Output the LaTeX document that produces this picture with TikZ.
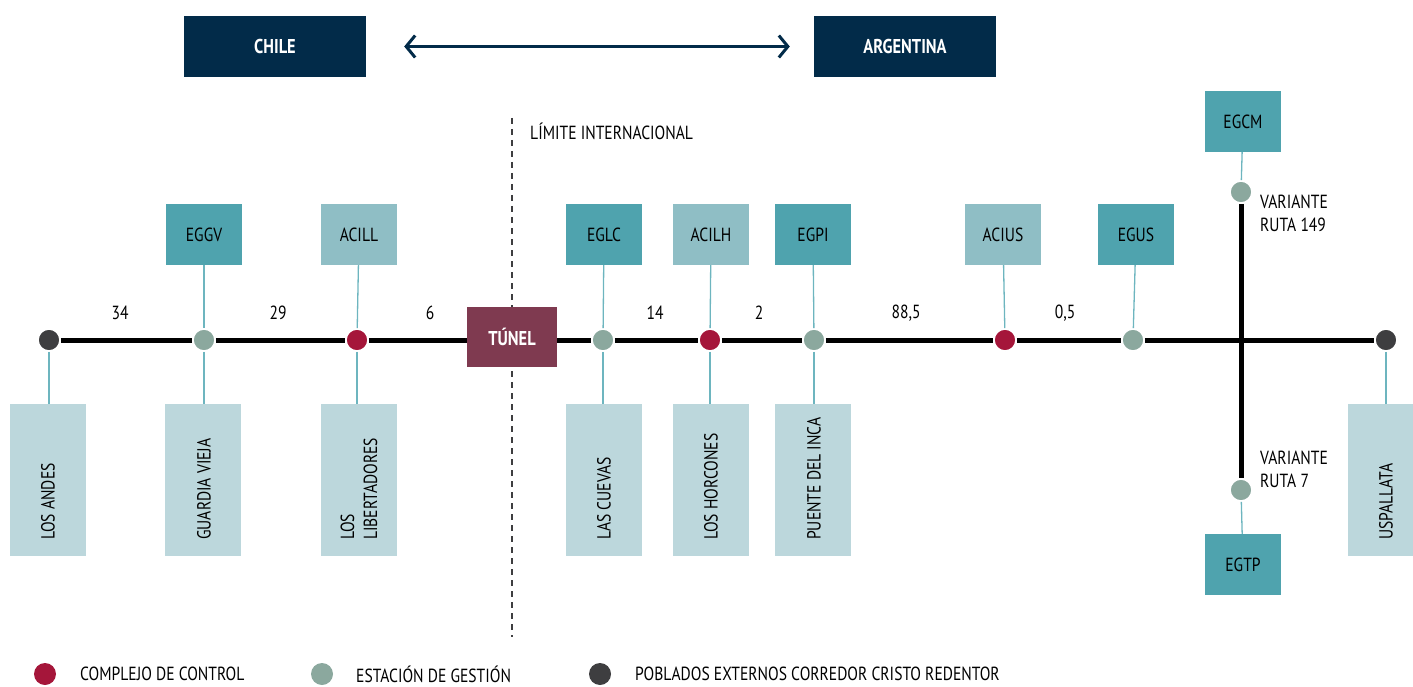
\documentclass[tikz,border=0pt]{standalone}
\usepackage{fontspec}
\setmainfont[FakeStretch=0.82]{PT Sans}
\usetikzlibrary{arrows.meta}
\definecolor{navy}{HTML}{022B49}
\definecolor{tunnelc}{HTML}{7F3A50}
\definecolor{tealA}{HTML}{4FA3AE}
\definecolor{tealB}{HTML}{8FBEC5}
\definecolor{pale}{HTML}{BCD7DC}
\definecolor{redc}{HTML}{A5163A}
\definecolor{sage}{HTML}{8BA89E}
\definecolor{darkc}{HTML}{3E3E40}
\definecolor{connc}{HTML}{6DB5BF}
\tikzset{
  txt/.style={font=\fontsize{19}{23}\selectfont, inner sep=0pt},
  boldtxt/.style={text=white, font=\fontsize{20}{23}\selectfont\bfseries},
  country/.style={rectangle, fill=navy, minimum width=182pt, minimum height=61pt, boldtxt},
  topA/.style={rectangle, fill=tealA, minimum width=76pt, minimum height=61pt, txt},
  topB/.style={rectangle, fill=tealB, minimum width=76pt, minimum height=61pt, txt},
  town/.style={rectangle, fill=pale, minimum width=76pt, minimum height=152pt, anchor=north},
  townlbl/.style={txt, rotate=90, anchor=west, align=left},
  dot/.style={circle, minimum size=22pt, inner sep=0pt, draw=white, line width=1.6pt},
  ctrl/.style={dot, fill=redc},
  gest/.style={dot, fill=sage},
  ext/.style={dot, fill=darkc},
  road/.style={line width=5pt, black},
  conn/.style={draw=connc, line width=1.3pt},
}
\begin{document}
\begin{tikzpicture}[x=1pt,y=-1pt]
\useasboundingbox (0,0) rectangle (1413,687);
% countries
\node[country] (chile) at (275,46.5) {CHILE};
\node[country] (arg) at (905,46.5) {ARGENTINA};
\draw[navy, line width=3pt, {Straight Barb[length=9pt,width=22pt,line width=3pt]}-{Straight Barb[length=9pt,width=22pt,line width=3pt]}]
  ([xshift=38pt]chile.east) -- ([xshift=-24pt]arg.west);
% border
\coordinate (limT) at (512,118);
\coordinate (limB) at (512,637);
\draw[darkc, line width=1.4pt, dash pattern=on 6pt off 5pt] (limT) -- (limB);
\node[txt, anchor=west] (lim) at (530,131) {LÍMITE INTERNACIONAL};
% top boxes
\node[topA] (eggv) at (204,234.5) {EGGV};
\node[topB] (acill) at (359,234.5) {ACILL};
\node[topA] (eglc) at (604,234.5) {EGLC};
\node[topB] (acilh) at (711,234.5) {ACILH};
\node[topA] (egpi) at (813,234.5) {EGPI};
\node[topB] (acius) at (1003,234.5) {ACIUS};
\node[topA] (egus) at (1136,234.5) {EGUS};
\node[topA] (egcm) at (1243,121.5) {EGCM};
\node[topA] (egtp) at (1243,564.5) {EGTP};
% bottom boxes
\node[town] (bLA) at (48,404) {};
\node[town] (bGV) at (203,404) {};
\node[town] (bLL) at (359,404) {};
\node[town] (bLC) at (604,404) {};
\node[town] (bLH) at (711,404) {};
\node[town] (bPI) at (813,404) {};
\node[town] (bUS) at (1386,404) {};
\node[townlbl] (tLA) at (48,540) {LOS ANDES};
\node[townlbl] (tGV) at (204,540) {GUARDIA VIEJA};
\node[townlbl] (tLL) at (359,540) {LOS\\LIBERTADORES};
\node[townlbl] (tLC) at (604,540) {LAS CUEVAS};
\node[townlbl] (tLH) at (711,540) {LOS HORCONES};
\node[townlbl] (tPI) at (814,540) {PUENTE DEL INCA};
\node[townlbl] (tUS) at (1386,540) {USPALLATA};
% tunnel
\node[rectangle, fill=tunnelc, minimum width=90pt, minimum height=60pt, boldtxt] (tun) at (512,337) {TÚNEL};
% dots
\node[ext] (dLA) at (49,340) {};
\node[gest] (dGV) at (204,340) {};
\node[ctrl] (dLL) at (357,340) {};
\node[gest] (dLC) at (603,340) {};
\node[ctrl] (dLH) at (710,340) {};
\node[gest] (dPI) at (814,340) {};
\node[ctrl] (dAC) at (1005,340) {};
\node[gest] (dEU) at (1133,340) {};
\node[ext] (dUS) at (1386,340) {};
\node[gest] (dCM) at (1241,192) {};
\node[gest] (dTP) at (1241,490) {};
\coordinate (cross) at (1241,340);
% roads
\draw[road] (dLA) -- (dGV);
\draw[road] (dGV) -- (dLL);
\draw[road] (dLL) -- (tun.west |- dLL);
\draw[road] (tun.east |- dLC) -- (dLC);
\draw[road] (dLC) -- (dLH);
\draw[road] (dLH) -- (dPI);
\draw[road] (dPI) -- (dAC);
\draw[road] (dAC) -- (dEU);
\draw[road] (dEU) -- (cross) -- (dUS);
\draw[road] (dCM) -- (cross) -- (dTP);
% connectors
\draw[conn] (eggv) -- (dGV);
\draw[conn] (acill) -- (dLL);
\draw[conn] (eglc) -- (dLC);
\draw[conn] (acilh) -- (dLH);
\draw[conn] (egpi) -- (dPI);
\draw[conn] (acius) -- (dAC);
\draw[conn] (egus) -- (dEU);
\draw[conn] (egcm) -- (dCM);
\draw[conn] (dTP) -- (egtp);
\draw[conn] (dLA) -- (bLA.north -| dLA);
\draw[conn] (dGV) -- (bGV.north -| dGV);
\draw[conn] (dLL) -- (bLL.north -| dLL);
\draw[conn] (dLC) -- (bLC.north -| dLC);
\draw[conn] (dLH) -- (bLH.north -| dLH);
\draw[conn] (dPI) -- (bPI.north -| dPI);
\draw[conn] (dUS) -- (bUS.north -| dUS);
% distances
\node[txt] (k1) at (120,313) {34};
\node[txt] (k2) at (278,313) {29};
\node[txt] (k3) at (430,313) {6};
\node[txt] (k4) at (655,313) {14};
\node[txt] (k5) at (759,313) {2};
\node[txt] (k6) at (906,313) {88,5};
\node[txt] (k7) at (1065,313) {0,5};
% variants
\node[txt, anchor=west, align=left] (v149) at (1260,213) {VARIANTE\\RUTA 149};
\node[txt, anchor=west, align=left] (v7) at (1260,469) {VARIANTE\\RUTA 7};
% legend
\node[ctrl, draw=none] (lg1) at (45,674) {};
\node[txt, anchor=west] (lt1) at (80,674) {COMPLEJO DE CONTROL};
\node[gest, draw=none] (lg2) at (322,674) {};
\node[txt, anchor=west] (lt2) at (356,674) {ESTACIÓN DE GESTIÓN};
\node[ext, draw=none] (lg3) at (600,674) {};
\node[txt, anchor=west] (lt3) at (635,674) {POBLADOS EXTERNOS CORREDOR CRISTO REDENTOR};
\end{tikzpicture}
\end{document}
